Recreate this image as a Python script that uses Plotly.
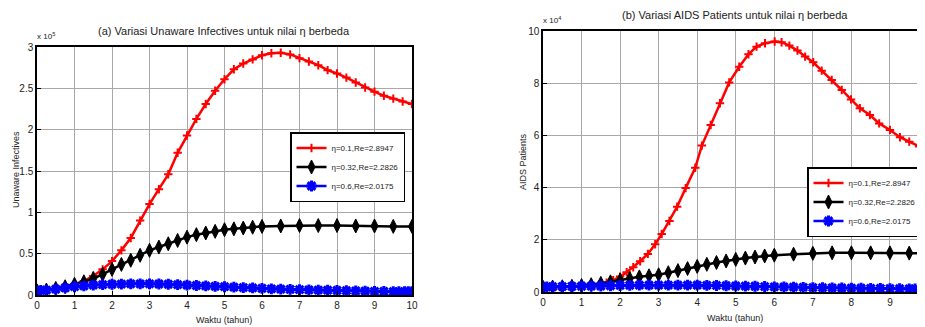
import plotly.graph_objects as go

# ---------------- data (left: Unaware Infectives, x 1e5) ----------------
t_red_a = [0, 0.25, 0.5, 0.75, 1.0, 1.25, 1.5, 1.75, 2.0, 2.25, 2.5, 2.75, 3.0, 3.25, 3.5, 3.75,
           4.0, 4.25, 4.5, 4.75, 5.0, 5.25, 5.5, 5.75, 6.0, 6.25, 6.5, 6.75, 7.0, 7.25, 7.5, 7.75,
           8.0, 8.25, 8.5, 8.75, 9.0, 9.25, 9.5, 9.75, 10.0]
red_a = [0.05, 0.06, 0.08, 0.10, 0.13, 0.17, 0.23, 0.31, 0.41, 0.54, 0.69, 0.90, 1.10, 1.28, 1.46, 1.72,
         1.93, 2.13, 2.31, 2.47, 2.61, 2.73, 2.80, 2.85, 2.90, 2.925, 2.93, 2.91, 2.865, 2.825, 2.78, 2.72,
         2.68, 2.63, 2.57, 2.51, 2.46, 2.41, 2.375, 2.34, 2.31]

t_black_a = [0, 0.25, 0.5, 0.75, 1.0, 1.25, 1.5, 1.75, 2.0, 2.25, 2.5, 2.75, 3.0, 3.25, 3.5, 3.75,
             4.0, 4.25, 4.5, 4.75, 5.0, 5.25, 5.5, 5.75, 6.0, 6.5, 7.0, 7.5, 8.0, 8.5, 9.0, 9.5, 10.0]
black_a = [0.05, 0.06, 0.08, 0.10, 0.13, 0.16, 0.20, 0.25, 0.31, 0.37, 0.42, 0.48, 0.54, 0.58, 0.62, 0.66,
           0.70, 0.73, 0.75, 0.77, 0.79, 0.80, 0.81, 0.82, 0.83, 0.835, 0.84, 0.84, 0.84, 0.835, 0.835, 0.83, 0.83]

t_blue_a = [0, 0.1, 0.25, 0.5, 0.75, 1.0, 1.25, 1.5, 1.75, 2.0, 2.25, 2.5, 2.75, 3.0, 3.25, 3.5, 3.75,
            4.0, 4.25, 4.5, 4.75, 5.0, 5.25, 5.5, 5.75, 6.0, 6.25, 6.5, 6.75, 7.0, 7.25, 7.5, 7.75,
            8.0, 8.25, 8.5, 8.75, 9.0, 9.25, 9.5, 9.65, 9.8, 9.9, 10.0]
blue_a = [0.05, 0.055, 0.06, 0.07, 0.085, 0.10, 0.11, 0.12, 0.125, 0.13, 0.132, 0.135, 0.135, 0.135, 0.133, 0.13, 0.125,
          0.12, 0.115, 0.11, 0.105, 0.10, 0.095, 0.09, 0.085, 0.08, 0.075, 0.07, 0.068, 0.065, 0.062, 0.06, 0.058,
          0.055, 0.052, 0.05, 0.048, 0.045, 0.043, 0.04, 0.04, 0.04, 0.04, 0.04]

# ---------------- data (right: AIDS Patients, x 1e4) ----------------
t_red_b = [0, 0.25, 0.5, 0.75, 1.0, 1.25, 1.45, 1.65, 1.82, 2.0, 2.17, 2.34, 2.52, 2.72, 2.91, 3.08,
           3.28, 3.48, 3.70, 3.95, 4.12, 4.35, 4.59, 4.83, 5.09, 5.33, 5.54, 5.76, 6.01, 6.19, 6.39,
           6.6, 6.8, 7.01, 7.23, 7.49, 7.75, 7.99, 8.22, 8.48, 8.72, 9.0, 9.26, 9.5, 9.76, 10.0]
red_b = [0.15, 0.16, 0.17, 0.19, 0.21, 0.25, 0.30, 0.36, 0.45, 0.59, 0.76, 0.95, 1.18, 1.46, 1.83, 2.22,
         2.72, 3.27, 3.98, 4.76, 5.61, 6.40, 7.23, 8.03, 8.63, 9.11, 9.40, 9.53, 9.60, 9.57, 9.44,
         9.25, 9.02, 8.80, 8.48, 8.12, 7.74, 7.38, 7.04, 6.78, 6.46, 6.21, 5.93, 5.76, 5.57, 5.40]

t_black_b = [0, 0.25, 0.5, 0.75, 1.0, 1.25, 1.5, 1.75, 2.0, 2.25, 2.5, 2.75, 3.0, 3.25, 3.5, 3.75,
             4.0, 4.25, 4.5, 4.75, 5.0, 5.25, 5.5, 5.75, 6.0, 6.5, 7.0, 7.5, 8.0, 8.5, 9.0, 9.5, 10.0]
black_b = [0.18, 0.19, 0.20, 0.22, 0.25, 0.28, 0.33, 0.39, 0.46, 0.52, 0.58, 0.62, 0.66, 0.74, 0.82, 0.90,
           0.98, 1.06, 1.13, 1.19, 1.25, 1.30, 1.34, 1.38, 1.41, 1.45, 1.48, 1.50, 1.50, 1.50, 1.50, 1.49, 1.48]

t_blue_b = [0, 0.1, 0.25, 0.5, 0.75, 1.0, 1.25, 1.5, 1.75, 2.0, 2.25, 2.5, 2.75, 3.0, 3.25, 3.5, 3.75,
            4.0, 4.25, 4.5, 4.75, 5.0, 5.25, 5.5, 5.75, 6.0, 6.25, 6.5, 6.75, 7.0, 7.25, 7.5, 7.75,
            8.0, 8.25, 8.5, 8.75, 9.0, 9.25, 9.5, 9.65, 9.8, 9.9, 10.0]
blue_b = [0.20, 0.20, 0.205, 0.21, 0.215, 0.22, 0.225, 0.23, 0.24, 0.25, 0.255, 0.26, 0.26, 0.26, 0.26, 0.26, 0.26,
          0.26, 0.255, 0.25, 0.24, 0.23, 0.225, 0.22, 0.21, 0.20, 0.195, 0.19, 0.18, 0.17, 0.165, 0.16, 0.155,
          0.15, 0.145, 0.14, 0.135, 0.13, 0.125, 0.12, 0.115, 0.11, 0.11, 0.11]

legend_names = ["η=0.1,Re=2.8947", "η=0.32,Re=2.2826", "η=0.6,Re=2.0175"]
x_ticks = [0, 1, 2, 3, 4, 5, 6, 7, 8, 9, 10]
y_ticks_a = [0, 0.5, 1, 1.5, 2, 2.5, 3]
y_ticks_b = [0, 2, 4, 6, 8, 10]

FONT = "Liberation Sans, Arial, sans-serif"
OFF = 8                    # default page body margin
W, H = 925 - OFF, 327 - OFF

def px_x(p):
    return (p - OFF) / W

def px_y(p):
    return 1 - (p - OFF) / H

fig = go.Figure()

styles = [
    dict(color="#ff0000", symbol="cross-thin", size=6, mlw=2),
    dict(color="#000000", symbol="diamond-tall", size=10, mlw=1),
    dict(color="#0000ff", symbol="asterisk", size=9, mlw=3),
]

def add_series(t, v, k, xa, ya, leg):
    s = styles[k]
    fig.add_trace(go.Scatter(
        x=t, y=v, mode="lines+markers", name=legend_names[k],
        xaxis=xa, yaxis=ya, legend=leg,
        line=dict(color=s["color"], width=2.5),
        marker=dict(symbol=s["symbol"], size=s["size"], color=s["color"],
                    line=dict(color=s["color"], width=s["mlw"])),
    ))

add_series(t_red_a, red_a, 0, "x", "y", "legend")
add_series(t_black_a, black_a, 1, "x", "y", "legend")
add_series(t_blue_a, blue_a, 2, "x", "y", "legend")
add_series(t_red_b, red_b, 0, "x2", "y2", "legend2")
add_series(t_black_b, black_b, 1, "x2", "y2", "legend2")
add_series(t_blue_b, blue_b, 2, "x2", "y2", "legend2")

axis_common = dict(
    showline=True, linecolor="black", linewidth=1.5, mirror=True,
    showgrid=True, gridcolor="#a8a8a8", gridwidth=1,
    ticks="inside", ticklen=4, tickcolor="black",
    zeroline=False, automargin=False,
    tickfont=dict(family=FONT, size=10, color="#222"),
)

legend_common = dict(
    bgcolor="white", bordercolor="black", borderwidth=1.5,
    font=dict(family=FONT, size=8, color="#222"),
    xanchor="right", yanchor="top", tracegroupgap=0, itemwidth=30,
)

fig.update_layout(
    width=W, height=H, margin=dict(l=0, r=0, t=0, b=0, autoexpand=False),
    paper_bgcolor="white", plot_bgcolor="white",
    xaxis=dict(domain=[px_x(37), px_x(412)], range=[0, 10], tickvals=x_ticks, anchor="y", **axis_common),
    yaxis=dict(domain=[px_y(295), px_y(47)], range=[0, 3], tickvals=y_ticks_a, anchor="x", **axis_common),
    xaxis2=dict(domain=[px_x(543), 1.0], range=[0, (925 - 543) / 38.55], tickvals=x_ticks, anchor="y2", **axis_common),
    yaxis2=dict(domain=[px_y(292), px_y(31)], range=[0, 10], tickvals=y_ticks_b, anchor="x2", **axis_common),
    legend=dict(x=px_x(405), y=px_y(132), **legend_common),
    legend2=dict(x=px_x(922), y=px_y(167), **legend_common),
    font=dict(family=FONT, color="#222"),
)

annotations = [
    dict(text="(a) Variasi Unaware Infectives untuk nilai η berbeda", x=px_x(224), y=px_y(31), size=11),
    dict(text="(b) Variasi AIDS Patients untuk nilai η berbeda", x=px_x(735), y=px_y(15), size=11),
    dict(text="x 10<sup>5</sup>", x=px_x(46), y=px_y(36), size=8),
    dict(text="x 10<sup>4</sup>", x=px_x(552), y=px_y(20), size=8),
    dict(text="Waktu (tahun)", x=px_x(224), y=px_y(320), size=9),
    dict(text="Waktu (tahun)", x=px_x(735), y=px_y(318), size=9),
]
for a in annotations:
    fig.add_annotation(text=a["text"], x=a["x"], y=a["y"], xref="paper", yref="paper",
                       showarrow=False, xanchor="center", yanchor="middle",
                       font=dict(family=FONT, size=a["size"], color="#222"))

for txt, xp, yp in [("Unaware Infectives", 16, 170), ("AIDS Patients", 523, 162)]:
    fig.add_annotation(text=txt, x=px_x(xp), y=px_y(yp), xref="paper", yref="paper",
                       showarrow=False, textangle=-90, xanchor="center", yanchor="middle",
                       font=dict(family=FONT, size=9, color="#222"))

fig.write_html("out.html")
